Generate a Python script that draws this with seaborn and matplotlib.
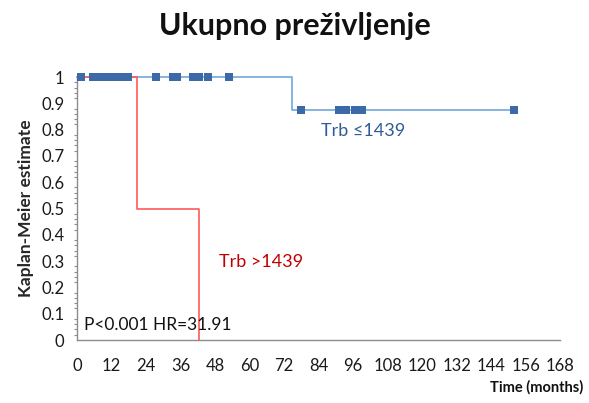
import numpy as np
import pandas as pd
import matplotlib
matplotlib.use("Agg")
import matplotlib.pyplot as plt
import seaborn as sns
from matplotlib.ticker import MultipleLocator

# step points of the two Kaplan-Meier curves (months, survival)
low_times = [0, 74.9, 151.8]
low_surv = [1.0, 0.875, 0.875]
high_times = [0, 20.8, 42.5]
high_surv = [1.0, 0.5, 0.0]

# censored observations in the Trb <=1439 group
cens_times = [1.5, 5.7, 7.0, 9.5, 10.7, 13.6, 15.7, 17.7, 27.6, 33.4, 34.8,
              40.5, 42.4, 45.7, 52.8, 77.8, 91.0, 93.4, 96.6, 99.0, 151.8]
cens_surv = [1.0] * 15 + [0.875] * 6

x_ticks = list(range(0, 169, 12))
y_ticks = [0, 0.1, 0.2, 0.3, 0.4, 0.5, 0.6, 0.7, 0.8, 0.9, 1]

sns.set_style("white")
plt.rcParams['font.family'] = ['Lato', 'DejaVu Sans']

curves = pd.concat([
    pd.DataFrame({'time': low_times, 'surv': low_surv, 'group': 'low'}),
    pd.DataFrame({'time': high_times, 'surv': high_surv, 'group': 'high'}),
])
cens = pd.DataFrame({'time': cens_times, 'surv': cens_surv})

fig = plt.figure(figsize=(5.89, 4.03), dpi=100)
ax = fig.add_axes([0.1307, 0.1563, 0.8203, 0.6526])

sns.lineplot(data=curves, x='time', y='surv', hue='group', estimator=None,
             palette={'low': '#6FA8DC', 'high': '#FF5A5A'}, drawstyle='steps-post',
             linewidth=1.2, legend=False, ax=ax, clip_on=False)
sns.scatterplot(data=cens, x='time', y='surv', marker='s', s=28, color='#3C6AA6',
                edgecolor='#3C6AA6', linewidth=0, ax=ax, zorder=5, clip_on=False)

ax.set_xlim(0, 168)
ax.set_ylim(0, 1)
ax.set_xticks(x_ticks)
ax.set_yticks(y_ticks)
ax.set_yticklabels(['0', '0.1', '0.2', '0.3', '0.4', '0.5', '0.6', '0.7', '0.8', '0.9', '1'])
ax.yaxis.set_minor_locator(MultipleLocator(0.02))
for s in ['top', 'right']:
    ax.spines[s].set_visible(False)
for s in ['left', 'bottom']:
    ax.spines[s].set_color('#8C8C8C')
    ax.spines[s].set_linewidth(1)
ax.tick_params(axis='both', which='major', direction='out', length=4, width=1,
               color='#8C8C8C', labelsize=12, labelcolor='#1A1A1A')
ax.tick_params(axis='x', which='major', pad=9)
ax.tick_params(axis='y', which='major', pad=5)
ax.tick_params(axis='y', which='minor', direction='out', length=2.5, width=0.8,
               color='#8C8C8C', left=True)
ax.set_xlabel('')
ax.set_ylabel('Kaplan-Meier estimate', fontsize=12.5, fontweight='bold', labelpad=5)

fig.text(0.5, 0.935, 'Ukupno preživljenje', ha='center', va='center',
         fontsize=22, fontweight='bold', color='#111111')
fig.text(0.99, 0.04, 'Time (months)', ha='right', va='center',
         fontsize=10.5, fontweight='bold', color='#111111')
ax.text(85, 0.795, 'Trb ≤1439', color='#2F5C95', fontsize=13, va='center')
ax.text(49.5, 0.297, 'Trb >1439', color='#C00000', fontsize=13, va='center')
ax.text(2.5, 0.057, 'P<0.001 HR=31.91', color='#111111', fontsize=12.5, va='center')

fig.savefig('out.png', dpi=100)
